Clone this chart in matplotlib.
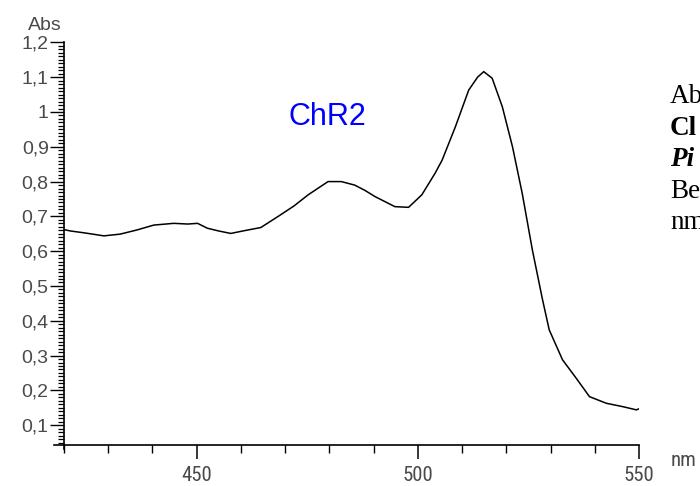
import matplotlib
matplotlib.use("Agg")
import matplotlib.pyplot as plt
from matplotlib import font_manager as fm
from matplotlib.lines import Line2D
import numpy as np

# ---- data ----
wavelength = [420, 421.5, 424.4, 427, 429, 432.7, 436.5, 440.3, 444.8, 448, 450.2,
              452.4, 455, 457.7, 460.8, 464.5, 468.3, 472, 475.2, 479.7, 482.7,
              485.7, 488, 490.3, 494.8, 497.9, 500.9, 503.9, 505.5, 508.5, 511.5,
              513.5, 514.9, 516.8, 519.1, 521.4, 523.6, 525.9, 528.2, 529.7, 532.7,
              535.8, 538.8, 542.6, 546.4, 549.4, 550]
absorbance = [0.662, 0.658, 0.653, 0.648, 0.644, 0.649, 0.661, 0.675, 0.680, 0.678, 0.680,
              0.666, 0.658, 0.651, 0.659, 0.668, 0.699, 0.730, 0.762, 0.800, 0.800,
              0.790, 0.775, 0.757, 0.728, 0.726, 0.762, 0.824, 0.862, 0.958, 1.063,
              1.100, 1.116, 1.097, 1.015, 0.900, 0.766, 0.603, 0.460, 0.374, 0.288,
              0.235, 0.182, 0.163, 0.153, 0.144, 0.147]
x_major = [450, 500, 550]
x_minor = list(range(420, 551, 10))
y_major = [0.1, 0.2, 0.3, 0.4, 0.5, 0.6, 0.7, 0.8, 0.9, 1.0, 1.1, 1.2]
y_labels = ["0,1", "0,2", "0,3", "0,4", "0,5", "0,6", "0,7", "0,8", "0,9", "1", "1,1", "1,2"]
side_lines = ["Ab", "Cl", "Pi", "Be", "nm"]


# ---- find a condensed sans font if one is installed ----
def find_condensed():
    best = None
    for f in fm.fontManager.ttflist:
        st = f.stretch
        cond = ("Narrow" in f.name or "Condensed" in f.name or "Cond" in f.name
                or st in ("condensed", "semi-condensed", "extra-condensed", "ultra-condensed")
                or (isinstance(st, int) and st < 500))
        if not cond:
            continue
        if f.style != "normal":
            continue
        w = f.weight
        if w not in (400, "normal", "regular", "book"):
            continue
        if "Serif" in f.name or "Mono" in f.name:
            continue
        score = 0
        if "Liberation" in f.name:
            score = 3
        elif "Roboto" in f.name or "Open Sans" in f.name:
            score = 2
        elif "DejaVu" in f.name:
            score = 1
        if best is None or score > best[0]:
            best = (score, f.fname)
    return best[1] if best else None


cond_file = find_condensed()
if cond_file:
    xfp = fm.FontProperties(fname=cond_file, size=15)
else:
    xfp = fm.FontProperties(family="Liberation Sans", size=13)

W, H = 700, 486
fig = plt.figure(figsize=(7, 4.86), dpi=100)
ax = fig.add_axes([64 / W, 1 - 445 / H, (639 - 64) / W, (445 - 42.4) / H])
ax.plot(wavelength, absorbance, color="black", lw=1.1)
ax.set_xlim(420, 550)
ax.set_ylim(0.043, 1.2)

for s in ["top", "right"]:
    ax.spines[s].set_visible(False)
for s in ["left", "bottom"]:
    ax.spines[s].set_linewidth(1.2)

gray = "#4a4a4a"
ax.set_xticks(x_major)
ax.set_xticklabels([str(v) for v in x_major], fontproperties=xfp, color=gray)
ax.set_xticks(x_minor, minor=True)
ax.tick_params(axis="x", which="major", length=10, width=1.1, direction="out", pad=5)
ax.tick_params(axis="x", which="minor", length=5.5, width=1.0, direction="out")

ax.set_yticks(y_major)
ax.set_yticklabels(y_labels, fontfamily="Liberation Sans", fontsize=14, color=gray)
ax.set_yticks(np.arange(0.05, 1.2001, 0.01), minor=True)
ax.tick_params(axis="y", which="major", length=10, width=1.0, direction="out", pad=1)
ax.tick_params(axis="y", which="minor", length=4, width=0.9, direction="out")

# small axis-line overhangs
ax.add_line(Line2D([-10 / 575, 0], [0, 0], transform=ax.transAxes, color="black", lw=1.2, clip_on=False))
ax.add_line(Line2D([0, 0], [-4 / 402.6, 0], transform=ax.transAxes, color="black", lw=1.2, clip_on=False))

fig.text(28 / W, 1 - 30 / H, "Abs", fontfamily="Liberation Sans", fontsize=14, color=gray, va="baseline")
fig.text(671 / W, 1 - 466 / H, "nm", fontproperties=xfp, color=gray, va="baseline")
fig.text(327 / W, 1 - 117 / H, "ChR2", fontfamily="Liberation Sans", fontsize=22, color="#0000ff",
         ha="center", va="center")

baselines = [103, 134.5, 166, 197.5, 229]
styles = [("normal", "normal"), ("bold", "normal"), ("bold", "italic"), ("normal", "normal"), ("normal", "normal")]
for txt, yb, (wt, st) in zip(side_lines, baselines, styles):
    fig.text(670 / W, 1 - yb / H, txt, fontfamily="Liberation Serif", fontsize=19.5,
             fontweight=wt, fontstyle=st, color="black", va="baseline")

fig.savefig("out.png", dpi=100)
